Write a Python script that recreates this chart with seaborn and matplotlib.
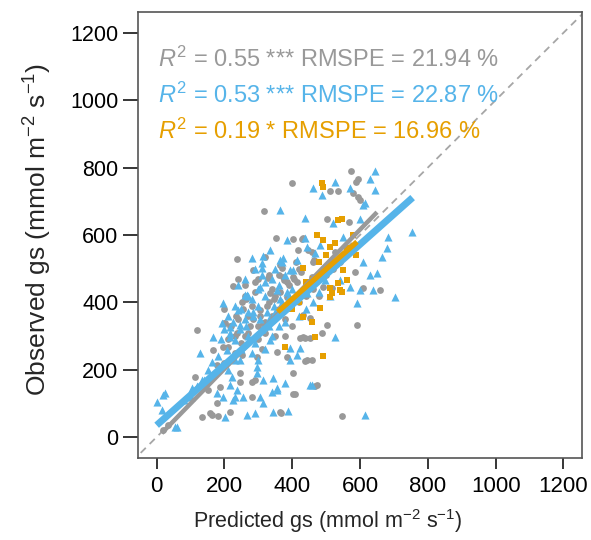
import matplotlib
matplotlib.use("Agg")
import matplotlib.pyplot as plt
import seaborn as sns
import pandas as pd
import numpy as np

# observed vs predicted stomatal conductance, three model groups
grey_pred = [573, 594, 588, 399, 535, 579, 594, 316, 503, 568, 352, 402, 432, 236, 319, 458, 464, 284, 364, 225,
             414, 458, 491, 334, 372, 118, 198, 251, 304, 384, 432, 452, 488, 502, 591, 432, 452, 112, 186, 151,
             177, 157, 133, 180, 216, 281, 290, 402, 408, 364, 296, 355, 384, 443, 458, 473, 547, 33, 18, 195,
             245, 313, 343, 585, 609, 659, 600, 511, 328, 369, 417, 429, 446, 461, 526, 402, 375, 485, 517, 166,
             177, 210, 201, 163, 245, 251, 236, 423, 437, 437, 467, 402, 281, 367,
             260, 275, 300, 320, 340, 360, 380, 330, 350, 270, 290, 310, 250, 230, 220, 200, 380, 400, 420, 440,
             460, 480, 500, 520, 540, 390, 300, 260, 200, 420, 350, 240,
             215, 235, 255, 265, 285, 305, 325, 345, 365, 385, 405, 425, 300, 320, 280, 260, 240, 340, 360, 410,
             270, 230, 210, 330, 290]
grey_obs = [791, 766, 757, 754, 731, 724, 713, 671, 647, 638, 591, 588, 591, 529, 535, 549, 526, 496, 511, 448,
            460, 475, 446, 428, 475, 318, 339, 401, 377, 416, 362, 353, 309, 333, 333, 297, 294, 178, 149, 140,
            101, 71, 59, 62, 74, 119, 169, 190, 128, 74, 238, 252, 238, 229, 229, 154, 62, 36, 21, 267,
            190, 339, 347, 490, 443, 437, 705, 731, 472, 502, 555, 588, 555, 520, 549, 475, 466, 484, 443, 258,
            214, 267, 339, 65, 163, 244, 309, 294, 294, 226, 151, 128, 163, 71,
            300, 330, 290, 310, 360, 380, 350, 400, 420, 360, 430, 260, 280, 250, 330, 220, 300, 330, 400, 420,
            440, 420, 480, 500, 520, 450, 470, 420, 380, 500, 300, 350,
            330, 360, 380, 410, 350, 360, 390, 410, 430, 460, 470, 490, 330, 340, 390, 450, 470, 440, 480, 520,
            310, 300, 290, 480, 460]

blue_pred = [644, 526, 461, 630, 570, 644, 488, 615, 364, 437, 520, 600, 754, 384, 482, 550, 680, 665, 334, 281,
             313, 310, 372, 402, 630, 650, 266, 355, 304, 570, 600, 639, 704, 443, 195, 260, 166, 127, 163, 216,
             245, 296, 236, 225, 195, 304, 343, 378, 313, 355, 458, 18, 0, 15, 59, 201, 266, 290, 343, 387,
             615, 526, 591, 414, 334, 216, 683, 609, 609, 310, 364, 393, 414, 437, 443, 467, 497, 542, 511, 207,
             192, 133, 104, 177, 24, 53, 222, 216, 231, 254, 245, 231, 216, 239, 284, 393, 423, 393, 452, 340,
             355, 296, 313,
             250, 270, 290, 310, 330, 350, 370, 390, 280, 260, 300, 320, 340, 360, 380, 400, 230, 210, 190, 180,
             150, 140, 120, 100, 80, 300, 320, 340, 360, 380, 420, 440, 460, 480, 270, 250,
             225, 245, 265, 285, 305, 325, 345, 365, 385, 405, 280, 300, 320, 260, 240, 350, 370, 310, 290, 230,
             210, 200, 190, 270, 330]
blue_obs = [790, 757, 739, 766, 739, 734, 719, 695, 674, 650, 635, 647, 609, 585, 570, 594, 561, 535, 555, 532,
            538, 502, 532, 496, 481, 487, 422, 437, 446, 446, 437, 437, 416, 428, 398, 422, 297, 249, 223, 297,
            333, 208, 140, 110, 119, 119, 175, 160, 169, 140, 154, 125, 104, 80, 30, 59, 65, 71, 74, 77,
            65, 297, 398, 244, 288, 327, 594, 520, 689, 517, 526, 496, 526, 591, 564, 546, 466, 466, 420, 258,
            339, 169, 146, 131, 131, 30, 178, 154, 119, 119, 229, 288, 309, 377, 371, 264, 264, 229, 154, 134,
            146, 190, 101,
            260, 300, 280, 320, 350, 370, 400, 420, 250, 350, 390, 420, 470, 450, 480, 440, 230, 200, 210, 240,
            200, 170, 150, 120, 110, 230, 260, 300, 330, 340, 360, 380, 400, 430, 420, 380,
            340, 320, 330, 360, 350, 370, 390, 410, 430, 410, 410, 440, 460, 470, 450, 500, 520, 480, 500, 390,
            360, 320, 290, 370, 330]

orange_pred = [488, 491, 547, 473, 491, 511, 526, 588, 432, 550, 562, 511, 541, 432, 458, 482, 511, 547, 378, 467,
               491, 535, 517, 535, 480, 500, 460, 420, 400, 560, 580, 440]
orange_obs = [754, 743, 647, 600, 585, 564, 576, 540, 502, 496, 466, 443, 437, 356, 342, 383, 416, 431, 267, 297,
              240, 457, 428, 644, 520, 540, 470, 400, 380, 560, 600, 460]

# fitted regression lines: (x start, x end, intercept, slope)
grey_fit = (15, 650, -4, 1.033)
blue_fit = (0, 755, 35, 0.895)
orange_fit = (357, 591, 54, 0.889)

stats_text = [r"$R^2$ = 0.55 *** RMSPE = 21.94 %",
              r"$R^2$ = 0.53 *** RMSPE = 22.87 %",
              r"$R^2$ = 0.19 * RMSPE = 16.96 %"]
ticks = [0, 200, 400, 600, 800, 1000, 1200]

grey_c = "#999999"
blue_c = "#56B4E9"
orange_c = "#E69F00"

sns.set_theme(style="white")
plt.rcParams["font.family"] = ["Liberation Sans", "DejaVu Sans"]
plt.rcParams["mathtext.fontset"] = "custom"
plt.rcParams["mathtext.rm"] = "Liberation Sans"
plt.rcParams["mathtext.it"] = "Liberation Sans:italic"

fig = plt.figure(figsize=(5.91, 5.40), dpi=100)
ax = fig.add_axes([0.2335, 0.152, 0.7515, 0.826])

ax.plot([-100, 1300], [-100, 1300], ls=(0, (4, 3)), color="#a6a6a6", lw=1.3, zorder=1)

sns.scatterplot(x=grey_pred, y=grey_obs, color=grey_c, marker="o", s=24, linewidth=0, ax=ax, zorder=2)
sns.scatterplot(x=blue_pred, y=blue_obs, color=blue_c, marker="^", s=34, linewidth=0, ax=ax, zorder=3)
sns.scatterplot(x=orange_pred, y=orange_obs, color=orange_c, marker="s", s=24, linewidth=0, ax=ax, zorder=4)

for fit, col, lw, z in [(grey_fit, grey_c, 3.2, 5), (blue_fit, blue_c, 5.0, 6), (orange_fit, orange_c, 3.8, 7)]:
    x0, x1, b, m = fit
    xs = np.array([x0, x1])
    sns.lineplot(x=xs, y=b + m * xs, color=col, lw=lw, ax=ax, zorder=z, solid_capstyle="butt")

ax.set_xlim(-55, 1255)
ax.set_ylim(-62, 1262)
ax.set_xticks(ticks)
ax.set_yticks(ticks)
ax.tick_params(axis="both", direction="out", width=1.1, color="black",
               labelcolor="black", left=True, bottom=True)
ax.tick_params(axis="x", length=8, labelsize=16, pad=5)
ax.tick_params(axis="y", length=11, labelsize=15.5, pad=3)
for sp in ax.spines.values():
    sp.set_color("#555555")
    sp.set_linewidth(1.2)

for txt, col, yv in zip(stats_text, [grey_c, blue_c, orange_c], [1120, 1013, 909]):
    ax.text(3, yv, txt, color=col, fontsize=17, ha="left", va="center")

ax.set_xlabel(r"Predicted gs (mmol m$^{-2}$ s$^{-1}$)", fontsize=15.5)
ax.set_ylabel(r"Observed gs (mmol m$^{-2}$ s$^{-1}$)", fontsize=19)
ax.xaxis.set_label_coords(0.428, -0.110)
ax.yaxis.set_label_coords(-0.19, 0.513)

fig.savefig("out.png", dpi=100)
